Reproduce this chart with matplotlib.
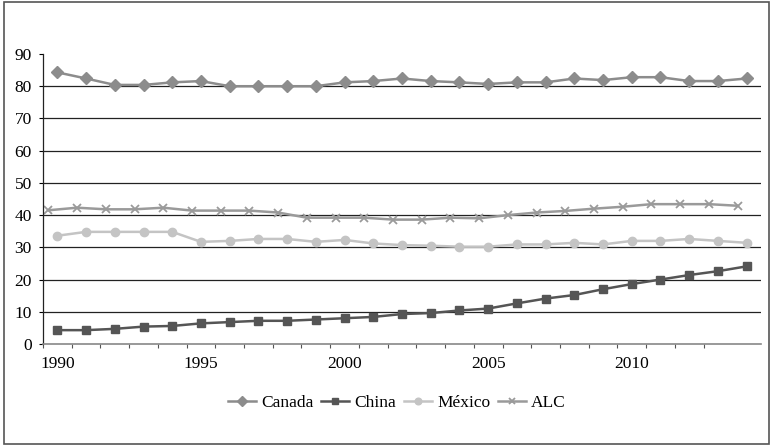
import numpy as np
import matplotlib
matplotlib.use("Agg")
from matplotlib import pyplot as plt
from matplotlib import transforms
from matplotlib.patches import Rectangle

years = np.arange(1990, 2015)

canada = [84.3, 82.4, 80.4, 80.4, 81.2, 81.6, 80.0, 80.0, 80.0, 80.0, 81.2, 81.6,
          82.4, 81.6, 81.2, 80.7, 81.2, 81.2, 82.4, 81.9, 82.8, 82.8, 81.6, 81.6, 82.4]
china = [4.3, 4.3, 4.7, 5.4, 5.6, 6.4, 6.8, 7.2, 7.2, 7.6, 8.0, 8.4,
         9.3, 9.6, 10.4, 11.0, 12.6, 14.1, 15.2, 17.0, 18.6, 20.0, 21.4, 22.6, 24.1]
mexico = [33.6, 34.8, 34.8, 34.8, 34.8, 31.7, 32.0, 32.6, 32.6, 31.7, 32.3, 31.2,
          30.7, 30.5, 30.2, 30.2, 30.9, 30.9, 31.4, 30.9, 32.0, 32.0, 32.6, 32.0, 31.4]
alc = [41.5, 42.3, 41.8, 41.8, 42.3, 41.4, 41.4, 41.4, 40.8, 39.2, 39.2, 39.2,
       38.6, 38.6, 39.2, 39.0, 40.0, 40.8, 41.3, 42.0, 42.6, 43.4, 43.4, 43.4, 42.9]

plt.rcParams['font.family'] = ['Liberation Serif', 'DejaVu Serif']

fig = plt.figure(figsize=(7.71, 4.45), dpi=100)
ax = fig.add_axes([43/771, 1 - 344/445, (761-43)/771, (344-54)/445])

ax.plot(years, canada, color='#8c8c8c', lw=1.8, marker='D', ms=6, label='Canada')
ax.plot(years, china, color='#555555', lw=1.8, marker='s', ms=6, label='China')
ax.plot(years, mexico, color='#c4c4c4', lw=1.8, marker='o', ms=6, label='México')
# ALC markers sit a little to the left in the original
shift = transforms.offset_copy(ax.transData, fig=fig, x=-9, y=0, units='dots')
ax.plot(years, alc, color='#9a9a9a', lw=1.8, marker='x', ms=6, mew=1.3,
        label='ALC', transform=shift)

ax.set_xlim(1989.5, 2014.5)
ax.set_ylim(0, 90)
ax.set_yticks(range(0, 91, 10))
ax.set_xticks([1990, 1995, 2000, 2005, 2010])
ax.set_xticks(years[:-1] - 0.5, minor=True)
ax.tick_params(axis='x', which='major', length=0, pad=9, labelsize=12.5)
ax.tick_params(axis='x', which='minor', length=3, width=0.8, color='#555555')
ax.tick_params(axis='y', length=3, width=0.8, pad=5, labelsize=12.5)

ax.yaxis.grid(True, color='#222222', lw=0.9)
gl = ax.get_ygridlines()
gl[0].set_visible(False)
gl[-1].set_visible(False)
ax.set_axisbelow(True)

for s in ['top', 'right']:
    ax.spines[s].set_visible(False)
ax.spines['left'].set_color('#222222')
ax.spines['left'].set_linewidth(0.9)
ax.spines['bottom'].set_color('#888888')
ax.spines['bottom'].set_linewidth(1.2)

fig.legend(loc='center', bbox_to_anchor=(397/771, 1 - 403/445), ncol=4, frameon=False,
           fontsize=12.5, handlelength=1.6, handletextpad=0.3, columnspacing=0.45,
           markerscale=0.8)

fig.patches.append(Rectangle((4/771, 1/445), 765/771, 442/445, transform=fig.transFigure,
                             fill=False, edgecolor='#555555', lw=1.2))

fig.savefig('out.png', dpi=100)
